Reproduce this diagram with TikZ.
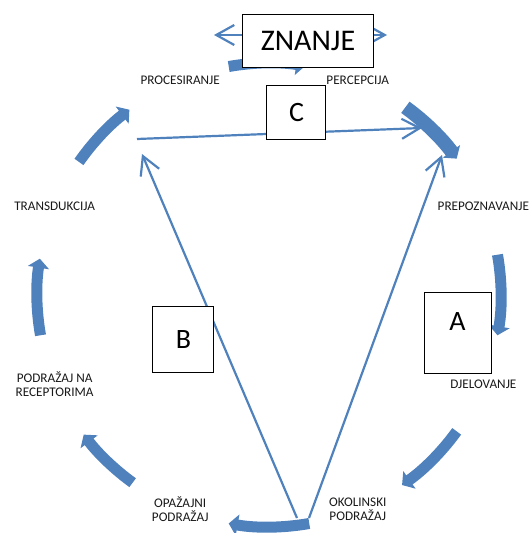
\documentclass[tikz,border=0pt]{standalone}
\usepackage{fontspec}
\setmainfont{Carlito}
\usetikzlibrary{arrows.meta}
\definecolor{ciklus}{HTML}{4F81BD}

\begin{document}
\begin{tikzpicture}[x=1pt, y=1pt,
		oznaka/.style={font=\fontsize{13.2}{14}\selectfont, align=center, text=black!90},
		kutija/.style={draw, fill=white, line width=1pt, font=\fontsize{28}{30}\selectfont},
		luk/.style={ciklus, -{Triangle[length=9pt,width=21pt]}},
		veza/.style={ciklus, line width=2.2pt, -{Straight Barb[length=18pt,width=20pt]}}]

		\useasboundingbox (-269,-238) rectangle (259,295);

		% Cycle of arrows
		\foreach \s/\e/\w in {100/81/11, 54/36/14, 10/-10/11, -36/-55/11, -80/-100/11, 234/217/11, 190/171/11, 145/127/11}
			\draw[luk, line width=\w pt] (\s:232pt) arc[start angle=\s, end angle=\e, radius=232pt];

		% Stages
		\foreach \a/\n/\t in {112.5/proc/PROCESIRANJE, 67.5/perc/PERCEPCIJA, 22.5/prep/PREPOZNAVANJE, -22.5/djel/DJELOVANJE, -67.5/okol/{OKOLINSKI\\PODRAŽAJ}, -112.5/opaz/{OPAŽAJNI\\PODRAŽAJ}, 202.5/rece/{PODRAŽAJ NA\\RECEPTORIMA}, 157.5/tran/TRANSDUKCIJA}
			\node[oznaka] (\n) at (\a:232pt) {\t};

		% Lines
		\coordinate (dnoL) at (28,-223);
		\coordinate (dnoD) at (40,-223);
		\coordinate (vrhL) at (-127,141);
		\coordinate (vrhD) at (173,140);
		\coordinate (cL) at (-132,156);
		\coordinate (cD) at (153,167);
		\coordinate (zL) at (-55,260);
		\coordinate (zD) at (118,260);
		\draw[veza] (dnoL) -- (vrhL);
		\draw[veza] (dnoD) -- (vrhD);
		\draw[veza] (cL) -- (cD);
		\draw[veza, {Straight Barb[length=18pt,width=20pt]}-{Straight Barb[length=18pt,width=20pt]}] (zL) -- (zD);

		% Boxes
		\node[kutija, minimum width=131pt, minimum height=53pt, font=\fontsize{30}{32}\selectfont] (znanje) at (39,254) {ZNANJE};
		\node[kutija, minimum width=59pt, minimum height=54pt] (c) at (27.5,182) {C};
		\node[kutija, minimum width=61pt, minimum height=66pt] (b) at (-85.5,-44.5) {B};
		\node[kutija, minimum width=67pt, minimum height=81pt, text depth=21pt] (a) at (188.5,-37.5) {A};

	\end{tikzpicture}
\end{document}
